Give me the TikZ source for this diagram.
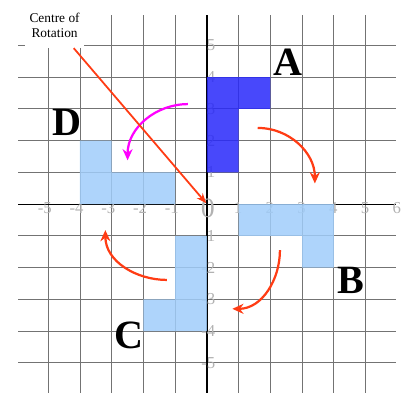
\documentclass[tikz,border=0pt]{standalone}
\usepackage{fontspec}
\setmainfont{Liberation Serif}
\usetikzlibrary{arrows.meta}
\usepackage{xcolor}

\definecolor{imgdark}{RGB}{40,40,250}
\definecolor{imglight}{RGB}{160,205,250}
\definecolor{turnred}{RGB}{255,60,20}
\definecolor{turnpink}{RGB}{255,0,255}

\tikzset{
	gridline/.style={black!55, line width=0.8pt},
	axisline/.style={black, line width=1pt},
	ticklabel/.style={text=black!30, font=\fontsize{15}{15}\selectfont, inner sep=0pt},
	shapedark/.style={fill=imgdark, fill opacity=0.85},
	shapelight/.style={fill=imglight, fill opacity=0.85},
	imgletter/.style={font=\fontsize{36}{36}\selectfont\bfseries, inner sep=0pt},
	turnarrow/.style={draw=turnred, line width=2pt, -{Stealth[length=10pt,width=9pt]}},
}

\begin{document}
\begin{tikzpicture}
		\useasboundingbox (-6.52,-6.11) rectangle (6.24,6.43);

		% grid and axes
		\draw[gridline] (-5.95,-5.95) grid (5.95,5.95);
		\draw[axisline] (-5.95,0) -- (5.95,0);
		\draw[axisline] (0,-5.95) -- (0,5.95);

		% axis numbers
		\foreach \x in {-5,...,-1,1,2,...,6}
			\node[ticklabel, anchor=north east] (xt\x) at ({\x+0.12},0.05) {\x};
		\foreach \y in {-5,...,-1,1,2,...,5}
			\node[ticklabel, anchor=east] (yt\y) at (0.27,\y) {\y};
		\node[text=black!30, font=\fontsize{25}{25}\selectfont, inner sep=0pt] (zero) at (0.03,-0.12) {0};

		% the four images
		\fill[shapedark] (0,1) -- (0,4) -- (2,4) -- (2,3) -- (1,3) -- (1,1) -- cycle;
		\fill[shapelight] (1,0) -- (4,0) -- (4,-2) -- (3,-2) -- (3,-1) -- (1,-1) -- cycle;
		\fill[shapelight] (0,-1) -- (0,-4) -- (-2,-4) -- (-2,-3) -- (-1,-3) -- (-1,-1) -- cycle;
		\fill[shapelight] (-1,0) -- (-4,0) -- (-4,2) -- (-3,2) -- (-3,1) -- (-1,1) -- cycle;

		\node[imgletter] (la) at (2.55,4.47) {A};
		\node[imgletter] (lb) at (4.54,-2.39) {B};
		\node[imgletter] (lc) at (-2.46,-4.13) {C};
		\node[imgletter] (ld) at (-4.41,2.58) {D};

		% turning arrows
		\coordinate (ta1) at (1.6,2.4);
		\coordinate (tb1) at (3.4,0.65);
		\coordinate (ta2) at (2.3,-1.45);
		\coordinate (tb2) at (0.8,-3.3);
		\coordinate (ta3) at (-1.26,-2.39);
		\coordinate (tb3) at (-3.2,-0.82);
		\coordinate (ta4) at (-0.6,3.15);
		\coordinate (tb4) at (-2.5,1.38);

		\draw[turnarrow] (ta1) to[out=0,in=90] (tb1);
		\draw[turnarrow] (ta2) to[out=-90,in=0] (tb2);
		\draw[turnarrow] (ta3) to[out=180,in=-90] (tb3);
		\draw[turnarrow, draw=turnpink] (ta4) to[out=180,in=90] (tb4);

		% centre of rotation
		\coordinate (o) at (0,0);
		\node[fill=white, align=center, font=\fontsize{12}{13.5}\selectfont,
			minimum width=1.85cm, minimum height=1.4cm, inner sep=0pt] (lbl) at (-4.8,5.62) {Centre of\\Rotation};
		\draw[draw=turnred, line width=1.6pt, -{Stealth[length=9pt,width=7pt]}, shorten >=1pt] (lbl) -- (o);
	\end{tikzpicture}
\end{document}
